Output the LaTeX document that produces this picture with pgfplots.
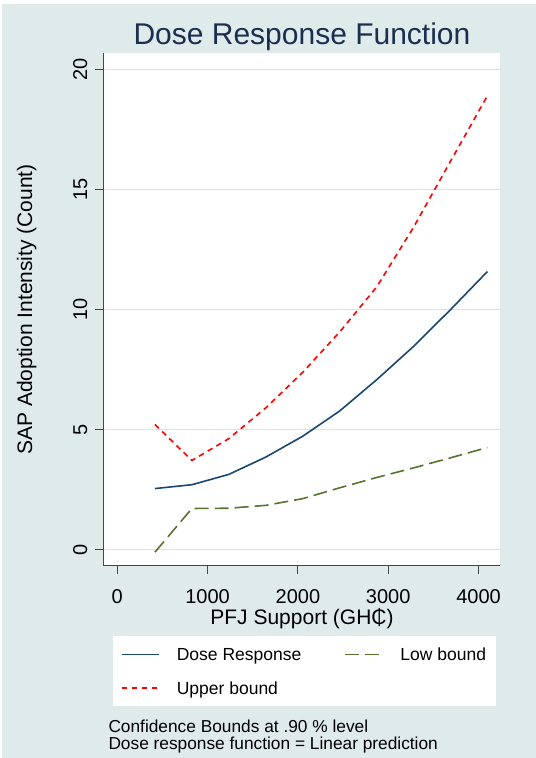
\documentclass[border=0pt]{standalone}
\usepackage{fontspec}
\setmainfont{Liberation Sans}
\usepackage{pgfplots}
\pgfplotsset{compat=1.18}
\definecolor{bgc}{RGB}{223,234,235}
\definecolor{gridc}{RGB}{214,229,232}
\definecolor{titlec}{RGB}{28,46,80}
\definecolor{dosec}{RGB}{26,71,111}
\definecolor{lowc}{RGB}{85,117,47}
\definecolor{axc}{RGB}{70,70,70}
\begin{document}
\begin{tikzpicture}[x=1bp,y=1bp]
\fill[white] (0,0) rectangle (536,758);
\fill[bgc] (2,0) rectangle (536,754);
\node[anchor=base, font=\fontsize{30bp}{36bp}\selectfont, text=titlec, inner sep=0pt] at (302,713.6) {Dose Response Function};
\begin{axis}[
  at={(103.3bp,192bp)}, anchor=south west,
  scale only axis, width=396.7bp, height=512.5bp,
  xmin=-155, xmax=4238, ymin=-0.686, ymax=20.665,
  axis x line*=bottom, axis y line*=left,
  axis line style={axc, line width=1bp},
  axis background/.style={fill=white},
  xtick={0,1000,2000,3000,4000}, ytick={0,5,10,15,20},
  scaled x ticks=false, scaled y ticks=false,
  tick align=outside, major tick length=8bp, minor tick num=0,
  tick style={axc, line width=1bp},
  ymajorgrids, grid style={gridc, line width=1.5bp},
  ticklabel style={font=\fontsize{20bp}{24bp}\selectfont},
  /pgf/number format/assume math mode=true,
  /pgf/number format/set thousands separator={},
  xticklabel style={anchor=north, inner xsep=0pt, inner ysep=15bp},
  yticklabel style={rotate=90, anchor=south, inner xsep=0pt, inner ysep=7.8bp},
  xlabel={PFJ Support (GH₵)},
  ylabel={SAP Adoption Intensity (Count)},
  every axis x label/.style={at={(axis description cs:0.5009,-0.1151)}, anchor=base, font=\fontsize{21bp}{25bp}\selectfont, inner sep=0pt},
  every axis y label/.style={at={(axis description cs:-0.1797,0.5005)}, rotate=90, anchor=base, font=\fontsize{21bp}{25bp}\selectfont, inner sep=0pt},
  legend columns=2, legend cell align=left,
  legend style={at={(axis description cs:0.0227,-0.1366)}, anchor=north west,
    draw=none, fill=white, inner xsep=8.4bp, inner ysep=8.6bp,
    font=\fontsize{17.5bp}{21bp}\selectfont, row sep=13.8bp,
    nodes={inner sep=0pt, text height=16bp, text depth=3.5bp},
    /tikz/every odd column/.append style={column sep=17.3bp}},
  legend image code/.code={\draw[#1] (0bp,0bp) -- (37bp,0bp);},
]
\addplot[dosec, line width=1.6bp] coordinates {
(417,2.54) (826,2.70) (1235,3.13) (1644,3.85) (2053,4.72) (2462,5.77) (2871,7.07) (3280,8.46) (3689,9.99) (4098,11.58)};
\addlegendentry{\makebox[167.7bp][l]{Dose Response}}
\addplot[lowc, line width=1.6bp, dash pattern=on 14bp off 6bp] coordinates {
(417,-0.11) (826,1.71) (1235,1.72) (1644,1.84) (2053,2.12) (2462,2.57) (2871,3.00) (3280,3.40) (3689,3.82) (4098,4.25)};
\addlegendentry{\makebox[87.5bp][l]{Low bound}}
\addplot[red, line width=1.6bp, dash pattern=on 5.5bp off 4.5bp] coordinates {
(417,5.21) (826,3.71) (1235,4.62) (1644,5.90) (2053,7.38) (2462,9.06) (2871,10.93) (3280,13.42) (3689,16.17) (4098,18.90)};
\addlegendentry{\makebox[167.7bp][l]{Upper bound}}
\end{axis}
\node[anchor=base west, font=\fontsize{17.3bp}{20bp}\selectfont, inner sep=0pt] at (108.3,25.7) {Confidence Bounds at .90 \% level};
\node[anchor=base west, font=\fontsize{17.3bp}{20bp}\selectfont, inner sep=0pt] at (108.3,8.7) {Dose response function = Linear prediction};
\pgfresetboundingbox
\path (0,0) rectangle (536,758);
\end{tikzpicture}
\end{document}
